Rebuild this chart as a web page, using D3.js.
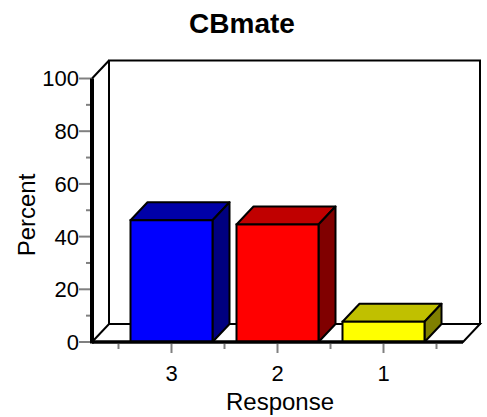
<!DOCTYPE html>
<html><head><meta charset="utf-8">
<script src="https://cdn.jsdelivr.net/npm/d3@7"></script>
<style>body{margin:0;background:#fff}svg{display:block}text{font-family:Arial,"Liberation Sans",sans-serif}</style>
</head><body>
<svg id="c" width="487" height="417"></svg>
<script>
const categories = ["3", "2", "1"];
const values = [46.2, 44.6, 7.7];
const frontColors = ["#0000FF", "#FF0000", "#FFFF00"];
const topColors = ["#0000A8", "#C00000", "#C0C000"];
const sideColors = ["#000080", "#800000", "#808000"];
const yTicks = [0, 20, 40, 60, 80, 100];
const yMinor = [10, 30, 50, 70, 90];

const svg = d3.select("#c");
const X0 = 92, X1 = 463, Y0 = 342, Y1 = 78.5;
const DX = 17, DY = -18;
const y = d3.scaleLinear().domain([0, 100]).range([Y0, Y1]);
const pad = (X1 - X0) / 3.5 / 4;
const x = d3.scaleBand().domain(categories).range([X0 + pad, X1 - pad]).padding(0);
const bw = 82;

// back wall
svg.append("rect").attr("x", X0 + DX).attr("y", y(100) + DY)
  .attr("width", X1 - X0).attr("height", Y0 - y(100))
  .attr("fill", "#fff").attr("stroke", "#000").attr("stroke-width", 2);
// floor
svg.append("path").attr("d", `M${X0},${Y0}L${X0+DX},${Y0+DY}L${X1+DX},${Y0+DY}L${X1},${Y0}Z`)
  .attr("fill", "#fff").attr("stroke", "#000").attr("stroke-width", 2);
// left wall top edge
svg.append("line").attr("x1", X0).attr("y1", y(100)).attr("x2", X0 + DX).attr("y2", y(100) + DY)
  .attr("stroke", "#000").attr("stroke-width", 2);

// bars
const g = svg.append("g");
categories.forEach((c, i) => {
  const xc = x(c) + x.bandwidth() / 2;
  const a = xc - bw / 2, b = xc + bw / 2, yv = y(values[i]);
  g.append("path").attr("d", `M${a},${yv}L${a+DX},${yv+DY}L${b+DX},${yv+DY}L${b},${yv}Z`)
    .attr("fill", topColors[i]).attr("stroke", "#000").attr("stroke-width", 2).attr("stroke-linejoin", "round");
  g.append("path").attr("d", `M${b},${yv}L${b+DX},${yv+DY}L${b+DX},${Y0+DY}L${b},${Y0}Z`)
    .attr("fill", sideColors[i]).attr("stroke", "#000").attr("stroke-width", 2).attr("stroke-linejoin", "round");
  g.append("rect").attr("x", a).attr("y", yv).attr("width", bw).attr("height", Y0 - yv)
    .attr("fill", frontColors[i]).attr("stroke", "#000").attr("stroke-width", 2);
});

// front floor line and left axis
svg.append("line").attr("x1", X0).attr("y1", Y0).attr("x2", X1).attr("y2", Y0)
  .attr("stroke", "#000").attr("stroke-width", 3.5);
// y ticks
yTicks.forEach(t => {
  svg.append("line").attr("x1", X0 - 13).attr("x2", X0).attr("y1", y(t)).attr("y2", y(t))
    .attr("stroke", "#808080").attr("stroke-width", 2);
  svg.append("text").attr("x", X0 - 13).attr("y", y(t)).attr("dy", "0.36em")
    .attr("text-anchor", "end").attr("font-size", 22).text(t);
});
yMinor.forEach(t => {
  svg.append("line").attr("x1", X0 - 6).attr("x2", X0).attr("y1", y(t)).attr("y2", y(t))
    .attr("stroke", "#808080").attr("stroke-width", 2);
});
svg.append("line").attr("x1", X0).attr("y1", y(100)).attr("x2", X0).attr("y2", Y0 + 1.5)
  .attr("stroke", "#000").attr("stroke-width", 4);

// x ticks
const edges = categories.map(c => x(c)).concat([x(categories[categories.length - 1]) + x.bandwidth()]);
edges.forEach(e => {
  svg.append("line").attr("x1", e).attr("x2", e).attr("y1", Y0 + 2).attr("y2", Y0 + 7)
    .attr("stroke", "#808080").attr("stroke-width", 2);
});
categories.forEach(c => {
  const xc = x(c) + x.bandwidth() / 2;
  svg.append("line").attr("x1", xc).attr("x2", xc).attr("y1", Y0 + 2).attr("y2", Y0 + 11)
    .attr("stroke", "#808080").attr("stroke-width", 2);
  svg.append("text").attr("x", xc).attr("y", 381).attr("text-anchor", "middle")
    .attr("font-size", 22).text(c);
});

// titles
svg.append("text").attr("x", 242).attr("y", 33).attr("text-anchor", "middle")
  .attr("font-size", 28).attr("font-weight", "bold").text("CBmate");
svg.append("text").attr("x", 280).attr("y", 410).attr("text-anchor", "middle")
  .attr("font-size", 24).text("Response");
svg.append("text").attr("transform", "translate(35,215) rotate(-90)").attr("text-anchor", "middle")
  .attr("font-size", 24).text("Percent");
</script>
</body></html>
